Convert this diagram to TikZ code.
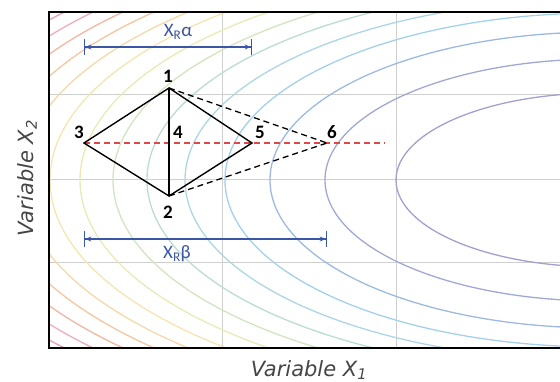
\documentclass[tikz,border=0pt]{standalone}
\usepackage{fontspec}
\setmainfont{Carlito}
\newfontfamily\axfont{DejaVu Sans}
\usetikzlibrary{arrows.meta}
\definecolor{c1}{HTML}{8C88C0}
\definecolor{c2}{HTML}{8892C8}
\definecolor{c3}{HTML}{84A8D8}
\definecolor{c4}{HTML}{8CC6E6}
\definecolor{c5}{HTML}{98CCDC}
\definecolor{c6}{HTML}{AAD4C6}
\definecolor{c7}{HTML}{C6DEB0}
\definecolor{c8}{HTML}{E6E4A2}
\definecolor{c9}{HTML}{F2DE9C}
\definecolor{c10}{HTML}{F4CE92}
\definecolor{c11}{HTML}{F2B888}
\definecolor{c12}{HTML}{EEA48C}
\definecolor{c13}{HTML}{EA98A0}
\definecolor{c14}{HTML}{E2889A}
\definecolor{dimblue}{HTML}{3A56A8}
\definecolor{axgray}{HTML}{454545}
\definecolor{gridgray}{HTML}{CFCFCF}
\definecolor{reddash}{HTML}{E04848}
\tikzset{
  contour/.style={line width=1.3pt},
  gridline/.style={draw=gridgray, line width=1pt},
  edge/.style={draw=black, line width=1.4pt},
  dashedge/.style={draw=black, line width=1.3pt, dash pattern=on 6pt off 4pt},
  reddashline/.style={draw=reddash, line width=1.3pt, dash pattern=on 6pt off 4pt},
  dimline/.style={draw=dimblue, line width=1.3pt,
    arrows={Bar[width=16pt,line width=1.3pt]Stealth[length=6pt,width=5pt]-Stealth[length=6pt,width=5pt]Bar[width=16pt,line width=1.3pt]}},
  numlabel/.style={font=\bfseries\fontsize{19}{19}\selectfont, text=black, inner sep=0pt},
  dimlabel/.style={font=\fontsize{19}{19}\selectfont, text=dimblue, inner sep=0pt},
  axlabel/.style={font=\axfont\itshape\fontsize{21}{21}\selectfont, text=axgray, inner sep=0pt}
}
\begin{document}
\begin{tikzpicture}[x=1pt,y=-1pt]
\useasboundingbox (0,0) rectangle (560,382);
\begin{scope}
  \clip (49,12) rectangle (560,348);
  \foreach \xx in {222,396} \draw[gridline] (\xx,12) -- (\xx,348);
  \foreach \yy in {95,180,263} \draw[gridline] (49,\yy) -- (560,\yy);
  \foreach \a/\b/\c in {204/87/c1,275/121/c2,330/148/c3,375/167/c4,415/181/c5,453/194/c6,487/206/c7,520/218/c8,550/229/c9,579/239/c10,606/248/c11,632/256/c12,657/264/c13,681/272/c14}
    \draw[contour, draw=\c!80!white] (600,180) ellipse [x radius=\a pt, y radius=\b pt];
\end{scope}
\draw[line width=2.5pt, line join=miter] (560,12) -- (49,12) -- (49,348) -- (560,348);
% points
\coordinate (p1) at (169,88);
\coordinate (p2) at (169,196);
\coordinate (p3) at (84,143);
\coordinate (p4) at (169,143);
\coordinate (p5) at (252,143);
\coordinate (p6) at (327,143);
\coordinate (rend) at (385,143);
\draw[reddashline] (p3) -- (rend);
\draw[dashedge] (p1) -- (p6);
\draw[dashedge] (p2) -- (p6);
\draw[edge, line join=miter] (p1) -- (p3) -- (p2) -- (p5) -- cycle;
\draw[edge] (p1) -- (p2);
\node[numlabel] (l1) at (168,76) {1};
\node[numlabel] (l2) at (168,212) {2};
\node[numlabel] (l3) at (79,132) {3};
\node[numlabel] (l4) at (178,132) {4};
\node[numlabel] (l5) at (260,132) {5};
\node[numlabel] (l6) at (332,132) {6};
% dimensions
\coordinate (a1) at (84,47);
\coordinate (a2) at (252,47);
\coordinate (b1) at (84,239);
\coordinate (b2) at (327,239);
\draw[dimline] (a1) -- (a2);
\draw[dimline] (b1) -- (b2);
\node[dimlabel] (la) at (178,32) {X\textsubscript{R}α};
\node[dimlabel] (lb) at (177,254) {X\textsubscript{R}β};
% axis labels
\node[axlabel] (ax1) at (309,370) {Variable X\textsubscript{1}};
\node[axlabel, rotate=90] (ax2) at (27,178) {Variable X\textsubscript{2}};
\end{tikzpicture}
\end{document}
